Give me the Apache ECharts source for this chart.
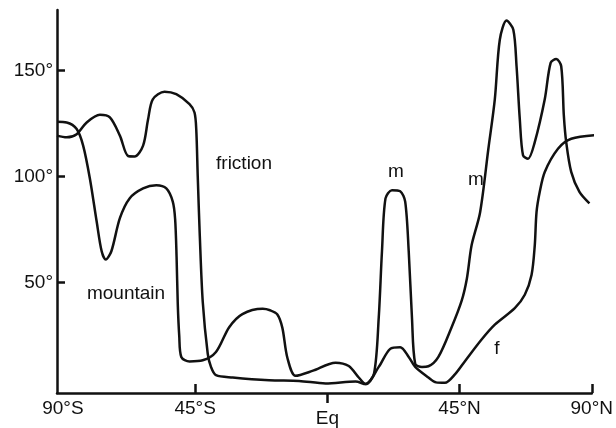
<!DOCTYPE html>
<html>
<head>
<meta charset="utf-8">
<script src="https://cdn.jsdelivr.net/npm/echarts@6/dist/echarts.min.js"></script>
<style>
html,body{margin:0;padding:0;background:#fff;}
#chart{width:616px;height:428px;}
</style>
</head>
<body>
<div id="chart"></div>
<script>
// Latitude tick labels and tick marks
const latLabelValues = [-90, -45, 45, 90];
const latTickLabels = ['90°S', '45°S', '45°N', '90°N'];
const latTickMarks = [-45, 45, 90];
const eqTick = [0];
const eqTickLabel = ['Eq'];
const yTicks = [50, 100, 150];
const yTickLabels = ['50°', '100°', '150°'];

// Curve "friction" (upper curve in the SH, labelled f in the NH)
const frictionLat = [-92, -88.7, -85.3, -81.9, -77.4, -74, -70.6, -67.8, -65.6, -62.7, -61, -59.4, -55.4, -51.4, -46.9, -45.2, -44.6, -44.1, -43.4, -42.4, -40.7, -39.6, -37.9, -32.2, -19.8, -9.6, -0.6, 9.6, 13, 17.5, 21.4, 24.8, 27.7, 29.9, 34.4, 37, 40, 43.5, 46.9, 52.5, 57, 63.8, 67.2, 69.5, 70.6, 71.2, 72.3, 74, 78.5, 83, 92];
const frictionVal = [119.3, 118.5, 120, 125.5, 129.1, 127.9, 119.3, 109.7, 109.5, 114.6, 127, 136.4, 140, 138.8, 134.1, 130.2, 122, 100, 72, 41, 16.5, 10.3, 6.4, 5.3, 4, 3.7, 2.5, 3.4, 2.2, 10.3, 18.8, 19.6, 15, 10.3, 5.3, 3, 2.8, 6.9, 13.1, 23.2, 30.2, 38, 44.3, 53.6, 67.6, 83.2, 92.8, 102.2, 113.1, 117.8, 119.6];

// Curve "mountain" (lower curve in the SH, labelled m in the NH)
const mountainLat = [-92, -88.7, -85.3, -83.1, -80.8, -78.5, -76.8, -75.4, -73.5, -70.6, -67.3, -62.7, -58.2, -54.8, -52.6, -51.8, -51.3, -50.9, -50.4, -49.7, -46.9, -42.4, -37.9, -33.4, -28.9, -22, -19.5, -17, -15.3, -13.6, -10.8, -5.1, 2.8, 7.3, 10.7, 13, 15.9, 17.5, 18.6, 19.8, 22, 24.8, 26.5, 27.7, 28.8, 29.9, 32.2, 34.4, 37.8, 42.3, 45.7, 47.5, 49.1, 52, 54.8, 57, 58.7, 61, 63.3, 64.4, 65.5, 66.6, 68.3, 70.6, 74, 76, 77.9, 79.6, 80.5, 81.3, 83, 85.8, 89.2];
const mountainVal = [125.8, 125.5, 122.4, 114.6, 99, 78.8, 64.8, 60.9, 64.8, 80.4, 89.7, 94.4, 95.9, 94.4, 88.2, 80, 62, 40, 25, 15, 12.9, 13.4, 17.3, 29, 35.2, 37.7, 37, 35, 28.7, 14.6, 6.1, 8.4, 12.3, 10.7, 5.3, 2.2, 7.2, 33.6, 64.8, 89.7, 93.6, 93.1, 88.2, 64.8, 33.6, 11.8, 10.3, 10.6, 15, 29, 41.4, 52, 67.6, 83.2, 113, 136.4, 164.5, 173.5, 169.2, 152, 127.1, 110, 108.4, 116.2, 136.4, 153.6, 155.4, 152, 128.6, 116.2, 102.2, 92.8, 87.4];

const ink = '#111';
const font = 'Liberation Sans, Arial, sans-serif';

const chart = echarts.init(document.getElementById('chart'), null, {renderer: 'canvas'});
const pairs = (xs, ys) => xs.map((x, i) => [x, ys[i]]);

chart.setOption({
  animation: false,
  backgroundColor: '#fff',
  grid: {left: 57, right: 22, top: 10, bottom: 32, containLabel: false},
  xAxis: [{
    type: 'value', min: -92, max: 90,
    axisLine: {show: true, onZero: false, lineStyle: {color: ink, width: 2.5}},
    axisTick: {show: true, inside: true, length: 9, customValues: latTickMarks, lineStyle: {color: ink, width: 2.5}},
    axisLabel: {show: true, customValues: latLabelValues, margin: 6, color: ink, fontSize: 19, fontFamily: font,
      formatter: v => latTickLabels[latLabelValues.indexOf(v)]},
    splitLine: {show: false}
  }, {
    type: 'value', min: -92, max: 90, position: 'bottom',
    axisLine: {show: false, onZero: false},
    axisTick: {show: true, inside: false, length: 10, customValues: eqTick, lineStyle: {color: ink, width: 2.5}},
    axisLabel: {show: true, customValues: eqTick, margin: 16, color: ink, fontSize: 19, fontFamily: font,
      formatter: v => eqTickLabel[eqTick.indexOf(v)]},
    splitLine: {show: false}
  }],
  yAxis: {
    type: 'value', min: -2, max: 178.5,
    axisLine: {show: true, onZero: false, lineStyle: {color: ink, width: 2.5}},
    axisTick: {show: true, inside: true, length: 8, customValues: yTicks, lineStyle: {color: ink, width: 2.5}},
    axisLabel: {show: true, customValues: yTicks, margin: 4, color: ink, fontSize: 19, fontFamily: font,
      formatter: v => yTickLabels[yTicks.indexOf(v)]},
    splitLine: {show: false}
  },
  series: [{
    name: 'friction', type: 'line', xAxisIndex: 0, data: pairs(frictionLat, frictionVal),
    smooth: 0.3, showSymbol: false, clip: false,
    lineStyle: {color: ink, width: 2.5}
  }, {
    name: 'mountain', type: 'line', xAxisIndex: 0, data: pairs(mountainLat, mountainVal),
    smooth: 0.3, showSymbol: false, clip: false,
    lineStyle: {color: ink, width: 2.5}
  }],
  graphic: [
    {type: 'text', x: 244, y: 164, style: {text: 'friction', fill: ink, font: '19px ' + font, textAlign: 'center', textVerticalAlign: 'middle'}},
    {type: 'text', x: 126, y: 294, style: {text: 'mountain', fill: ink, font: '19px ' + font, textAlign: 'center', textVerticalAlign: 'middle'}},
    {type: 'text', x: 396, y: 172, style: {text: 'm', fill: ink, font: '19px ' + font, textAlign: 'center', textVerticalAlign: 'middle'}},
    {type: 'text', x: 476, y: 180, style: {text: 'm', fill: ink, font: '19px ' + font, textAlign: 'center', textVerticalAlign: 'middle'}},
    {type: 'text', x: 497, y: 349, style: {text: 'f', fill: ink, font: '19px ' + font, textAlign: 'center', textVerticalAlign: 'middle'}}
  ]
});
</script>
</body>
</html>
